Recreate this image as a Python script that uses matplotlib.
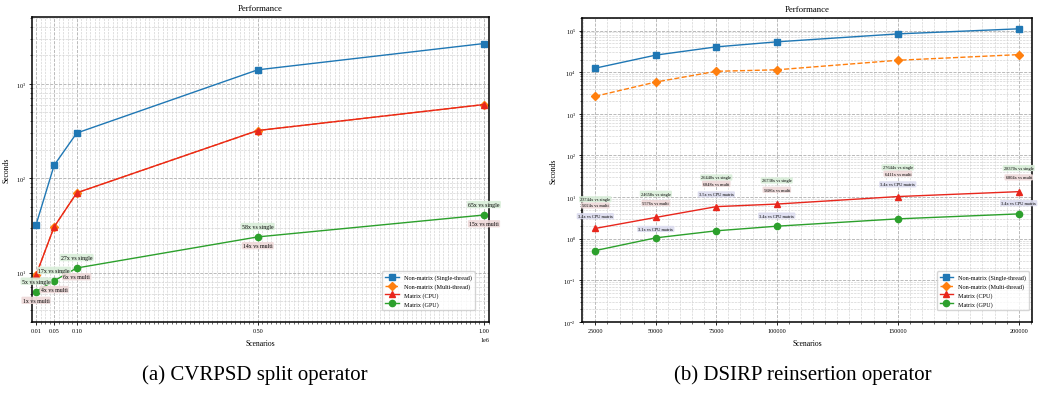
import numpy as np
import matplotlib
matplotlib.use("Agg")
import matplotlib.pyplot as plt
from matplotlib.ticker import MultipleLocator, LogLocator, NullFormatter

plt.rcParams['font.family'] = ['Liberation Serif', 'DejaVu Serif']
plt.rcParams['mathtext.fontset'] = 'stix'

# (a) CVRPSD split operator
scen_a = [10000, 50000, 100000, 500000, 1000000]
single_a = [32, 137, 301, 1406, 2670]
multi_a = [9.4, 30.5, 70, 320, 603]
cpu_a = [9.4, 30.5, 70, 320, 603]
gpu_a = [6.3, 8.2, 11.2, 23.9, 40.8]
vs_single_a = ["5x", "17x", "27x", "58x", "65x"]
vs_multi_a = ["1x", "4x", "6x", "14x", "15x"]
xticks_a = [0.01e6, 0.05e6, 0.10e6, 0.50e6, 1.00e6]

# (b) DSIRP reinsertion operator
scen_b = [25000, 50000, 75000, 100000, 150000, 200000]
single_b = [12500, 25700, 40500, 53500, 83000, 110000]
multi_b = [2640, 5800, 10500, 11400, 19300, 26400]
cpu_b = [1.77, 3.25, 5.9, 6.8, 10.3, 13.5]
gpu_b = [0.52, 1.05, 1.55, 2.0, 3.0, 3.95]
vs_single_b = ["23744x", "24658x", "26440x", "26738x", "27644x", "28370x"]
vs_multi_b = ["5024x", "5576x", "6848x", "5686x", "6411x", "6804x"]
vs_cpu_b = ["3.4x", "3.1x", "3.5x", "3.4x", "3.4x", "3.4x"]

labels = ["Non-matrix (Single-thread)", "Non-matrix (Multi-thread)", "Matrix (CPU)", "Matrix (GPU)"]
colors = ["#1f77b4", "#ff7f0e", "#e8261c", "#2ca02c"]
markers = ["s", "D", "^", "o"]
styles = ["-", "--", "-", "-"]

fig = plt.figure(figsize=(10.5, 4.06), dpi=100)
ax1 = fig.add_axes([0.0305, 0.2044, 0.4352, 0.7513])
ax2 = fig.add_axes([0.5543, 0.2044, 0.4286, 0.7488])


def draw_lines(ax, x, series):
    for y, lab, c, m, ls in zip(series, labels, colors, markers, styles):
        ax.plot(x, y, label=lab, color=c, marker=m, linestyle=ls,
                linewidth=1.0, markersize=4.5)


def style_axes(ax):
    ax.set_yscale('log')
    ax.set_title("Performance", fontsize=6.3, pad=5)
    ax.set_xlabel("Scenarios", fontsize=5.5, labelpad=4)
    ax.set_ylabel("Seconds", fontsize=5.5, labelpad=4)
    ax.tick_params(which='major', labelsize=4.4, length=2.5, width=0.6, pad=2)
    ax.tick_params(which='minor', length=1.5, width=0.4)
    ax.grid(True, which='major', linestyle='--', color='#b0b0b0', linewidth=0.6)
    ax.grid(True, which='minor', linestyle='--', color='#d0d0d0', linewidth=0.45)
    for s in ax.spines.values():
        s.set_linewidth(1.1)
    ax.legend(loc='lower right', fontsize=4.4, framealpha=0.8,
              borderpad=0.5, labelspacing=0.5, handlelength=2.2)


# ---- left panel
draw_lines(ax1, scen_a, [single_a, multi_a, cpu_a, gpu_a])
for x, y, s, m in zip(scen_a, gpu_a, vs_single_a, vs_multi_a):
    ax1.annotate(s + " vs single", (x, y), xytext=(0, 7.5), textcoords='offset points',
                 ha='center', va='center', fontsize=4.2,
                 bbox=dict(boxstyle='round,pad=0.2', fc='#d9eed9', ec='none', alpha=0.9))
    ax1.annotate(m + " vs multi", (x, y), xytext=(0, -6.3), textcoords='offset points',
                 ha='center', va='center', fontsize=4.2,
                 bbox=dict(boxstyle='round,pad=0.2', fc='#eed9d9', ec='none', alpha=0.9))
ax1.set_xlim(1200, 1011000)
ax1.set_ylim(3, 5100)
ax1.set_xticks(xticks_a)
ax1.xaxis.set_minor_locator(MultipleLocator(10000))
style_axes(ax1)
ax1.xaxis.get_offset_text().set_fontsize(4.4)
ax1.legend(loc='lower right', bbox_to_anchor=(0.975, 0.03), fontsize=4.4, framealpha=0.8,
           borderpad=0.5, labelspacing=0.5, handlelength=2.2)

# ---- right panel
draw_lines(ax2, scen_b, [single_b, multi_b, cpu_b, gpu_b])
for i, (x, y) in enumerate(zip(scen_b, cpu_b)):
    if i % 2 == 0:
        offs = (21, 16.5, 8.8)
    else:
        offs = (17, 10.3, -8.3)
    ax2.annotate(vs_single_b[i] + " vs single", (x, y), xytext=(0, offs[0]),
                 textcoords='offset points', ha='center', va='center', fontsize=3.2,
                 bbox=dict(boxstyle='round,pad=0.25', fc='#d9eed9', ec='none', alpha=0.9))
    ax2.annotate(vs_multi_b[i] + " vs multi", (x, y), xytext=(0, offs[1]),
                 textcoords='offset points', ha='center', va='center', fontsize=3.2,
                 bbox=dict(boxstyle='round,pad=0.25', fc='#eed9d9', ec='none', alpha=0.9))
    ax2.annotate(vs_cpu_b[i] + " vs CPU matrix", (x, y), xytext=(0, offs[2]),
                 textcoords='offset points', ha='center', va='center', fontsize=3.2,
                 bbox=dict(boxstyle='round,pad=0.25', fc='#dcdcef', ec='none', alpha=0.9))
ax2.set_xlim(19500, 205500)
ax2.set_ylim(1e-2, 2e5)
ax2.set_xticks(scen_b)
ax2.xaxis.set_minor_locator(MultipleLocator(5000))
ax2.yaxis.set_major_locator(LogLocator(base=10, numticks=20))
ax2.yaxis.set_minor_locator(LogLocator(base=10, subs=np.arange(2, 10), numticks=20))
ax2.yaxis.set_minor_formatter(NullFormatter())
style_axes(ax2)
ax2.legend(loc='lower right', bbox_to_anchor=(1.0, 0.03), fontsize=4.4, framealpha=0.8,
           borderpad=0.5, labelspacing=0.5, handlelength=2.2)

fig.text(0.243, 0.077, "(a) CVRPSD split operator", ha='center', va='center', fontsize=15)
fig.text(0.765, 0.077, "(b) DSIRP reinsertion operator", ha='center', va='center', fontsize=15)

fig.savefig("out.png", dpi=100)
